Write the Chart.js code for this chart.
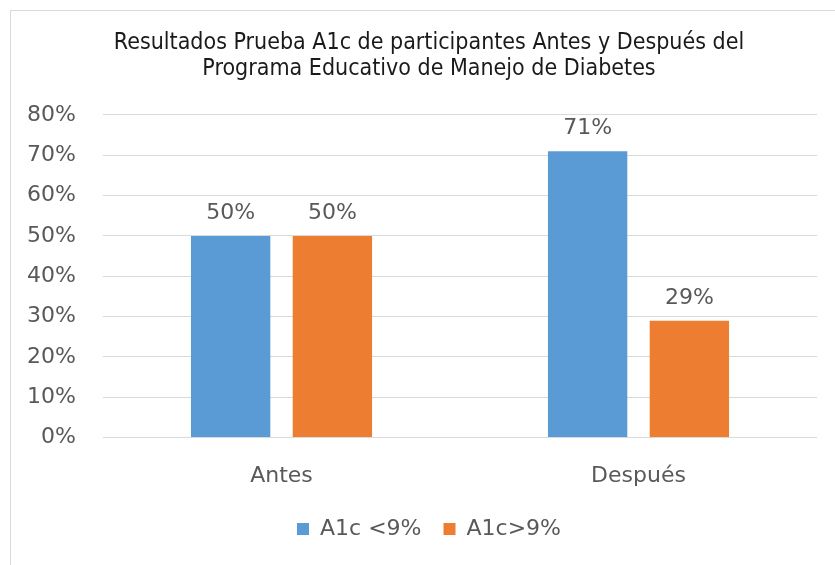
<!DOCTYPE html>
<html>
<head>
<meta charset="utf-8">
<script src="https://cdn.jsdelivr.net/npm/chart.js@4.4.1/dist/chart.umd.min.js"></script>
<style>
  html, body { margin: 0; padding: 0; background: #fff; }
  #wrap { position: relative; width: 835px; height: 565px; overflow: hidden; }
  #frame { position: absolute; left: 10px; top: 10px; width: 900px; height: 700px; border: 1px solid #d9d9d9; }
  #c { position: absolute; left: 0; top: 0; }
</style>
</head>
<body>
<div id="wrap">
  <div id="frame"></div>
  <canvas id="c" width="855" height="565"></canvas>
</div>
<script>
// ===== data =====
const categories = ['Antes', 'Después'];
const seriesNames = ['A1c <9%', 'A1c>9%'];
const lowA1c = [50, 71];
const highA1c = [50, 29];
const yTicks = [0, 10, 20, 30, 40, 50, 60, 70, 80];

const BLUE = '#5B9BD5';
const ORANGE = '#ED7D31';
const TEXT = '#595959';
const AXIS_FONT = 'DejaVu Sans';

// draws the % values above each bar
const barLabels = {
  id: 'barLabels',
  afterDatasetsDraw(chart) {
    const ctx = chart.ctx;
    ctx.save();
    ctx.font = '22px "' + AXIS_FONT + '"';
    ctx.fillStyle = TEXT;
    ctx.textAlign = 'center';
    ctx.textBaseline = 'alphabetic';
    chart.data.datasets.forEach((ds, i) => {
      chart.getDatasetMeta(i).data.forEach((bar, j) => {
        ctx.fillText(ds.data[j] + '%', bar.x, bar.y - 17);
      });
    });
    ctx.restore();
  }
};

// wide gap between legend items but legend kept close to the axis labels
const legendNudge = {
  id: 'legendNudge',
  afterLayout(chart) {
    if (!chart.legend) return;
    chart.legend.top -= 10;
    chart.legend.bottom -= 10;
  }
};

new Chart(document.getElementById('c'), {
  type: 'bar',
  data: {
    labels: categories,
    datasets: [
      { label: seriesNames[0], data: lowA1c, backgroundColor: BLUE },
      { label: seriesNames[1], data: highA1c, backgroundColor: ORANGE }
    ]
  },
  options: {
    responsive: false,
    animation: false,
    devicePixelRatio: 1,
    categoryPercentage: 0.57,
    barPercentage: 0.78,
    layout: { padding: { left: 20, right: 17, top: 30, bottom: 5 } },
    plugins: {
      title: {
        display: true,
        text: ['Resultados Prueba A1c de participantes Antes y Después del', 'Programa Educativo de Manejo de Diabetes'],
        color: '#1a1a1a',
        font: { family: 'DejaVu Sans Condensed', size: 23, weight: 'normal', lineHeight: 1.13 },
        padding: { top: 0, bottom: 33 }
      },
      legend: {
        position: 'bottom',
        labels: {
          color: TEXT,
          font: { family: AXIS_FONT, size: 22 },
          boxWidth: 12,
          boxHeight: 12,
          padding: 22
        }
      },
      tooltip: { enabled: false }
    },
    scales: {
      x: {
        grid: { display: false },
        border: { display: false },
        ticks: { color: TEXT, font: { family: AXIS_FONT, size: 22 }, padding: 17 }
      },
      y: {
        min: 0,
        max: 80,
        afterBuildTicks: s => { s.ticks = yTicks.map(v => ({ value: v })); },
        afterFit: s => { s.width = 83; },
        grid: { color: '#d9d9d9', lineWidth: 1, drawTicks: false },
        border: { display: false },
        ticks: { color: TEXT, font: { family: AXIS_FONT, size: 22 }, padding: 27, callback: v => v + '%' }
      },
      // empty right-hand spacer so title and legend sit where the reference has them
      yRight: {
        position: 'right',
        grid: { display: false },
        border: { display: false },
        ticks: { display: false },
        afterFit: s => { s.width = 21; }
      }
    }
  },
  plugins: [barLabels, legendNudge]
});
</script>
</body>
</html>
